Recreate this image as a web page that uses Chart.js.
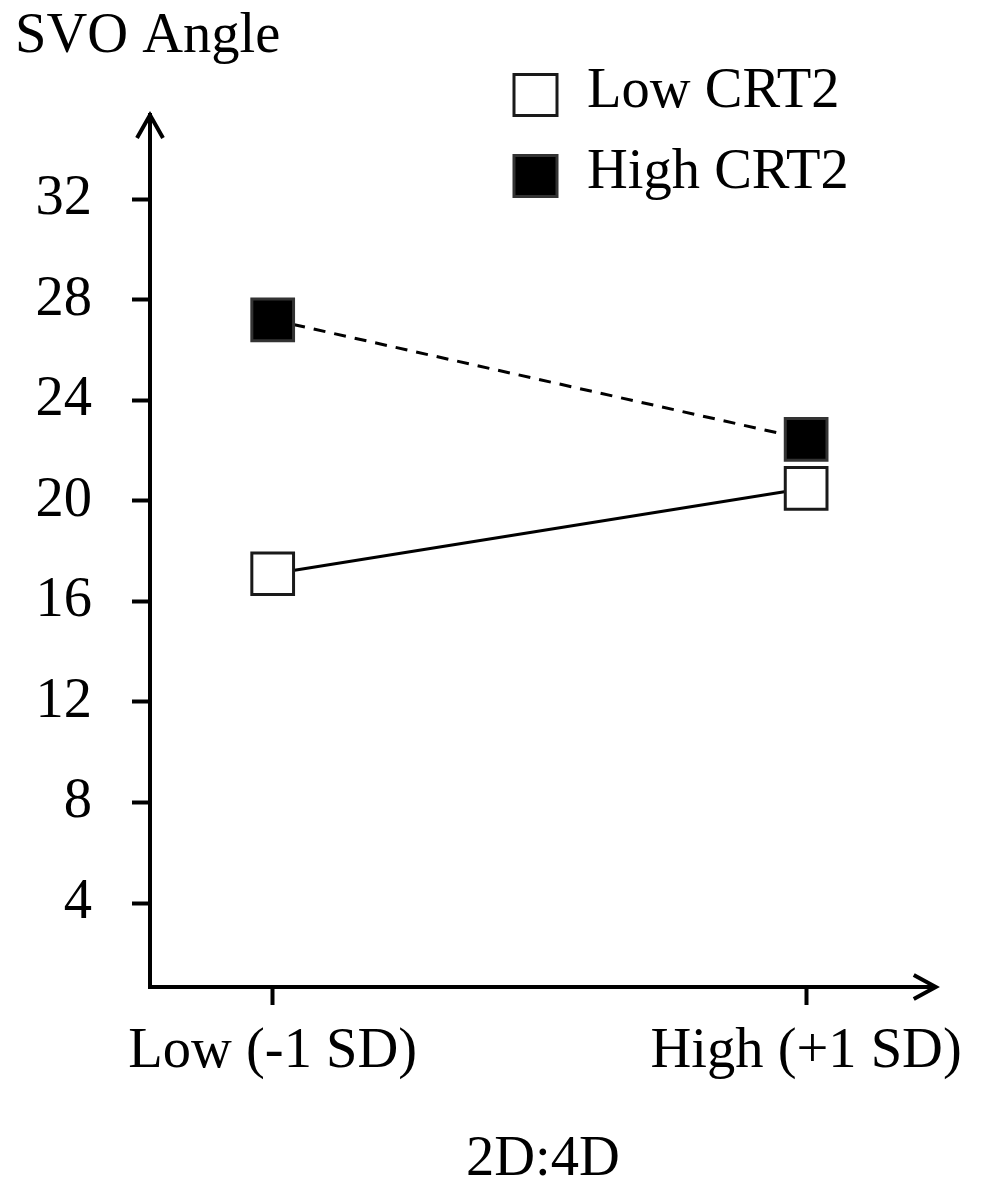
<!DOCTYPE html>
<html><head><meta charset="utf-8">
<script src="https://cdn.jsdelivr.net/npm/chart.js@4"></script>
<style>html,body{margin:0;padding:0;background:#fff}#wrap{width:982px;height:1179px;position:relative}</style>
</head><body><div id="wrap"><canvas id="c"></canvas></div>
<script>
const categories = ['Low (-1 SD)', 'High (+1 SD)'];
const seriesNames = ['Low CRT2', 'High CRT2'];
const lowCRT2 = [17.1, 20.5];
const highCRT2 = [27.2, 22.45];
const yTicks = [4, 8, 12, 16, 20, 24, 28, 32];
const yTitle = 'SVO Angle';
const xTitle = '2D:4D';

const FAMILY = '"Liberation Serif", "Times New Roman", serif';
const FS = 56.5;

const decor = {
  id: 'decor',
  afterDraw(chart) {
    const { ctx, chartArea: a } = chart;
    ctx.save();
    ctx.strokeStyle = '#000';
    ctx.lineWidth = 4;
    ctx.lineJoin = 'miter';
    ctx.beginPath();
    ctx.moveTo(a.left - 13, a.top + 23); ctx.lineTo(a.left, a.top); ctx.lineTo(a.left + 13, a.top + 23);
    ctx.stroke();
    ctx.beginPath();
    ctx.moveTo(a.right - 22, a.bottom - 12); ctx.lineTo(a.right, a.bottom); ctx.lineTo(a.right - 22, a.bottom + 12);
    ctx.stroke();
    ctx.fillStyle = '#000';
    ctx.font = FS + 'px ' + FAMILY;
    ctx.textBaseline = 'alphabetic';
    ctx.textAlign = 'left';
    ctx.fillText(yTitle, 15, 52);
    ctx.textAlign = 'center';
    ctx.fillText(xTitle, (a.left + a.right) / 2, 1175);
    // legend
    ctx.textAlign = 'left';
    chart.data.datasets.forEach((ds, i) => {
      const top = 73 + i * 81;
      ctx.fillStyle = ds.pointBackgroundColor;
      ctx.fillRect(514, top + 1.5, 43, 41);
      ctx.lineWidth = 3;
      ctx.strokeStyle = ds.pointBorderColor;
      ctx.strokeRect(514, top + 1.5, 43, 41);
      ctx.fillStyle = '#000';
      ctx.fillText(ds.label, 587, top + 34);
    });
    ctx.restore();
  }
};

new Chart(document.getElementById('c'), {
  type: 'line',
  data: {
    datasets: [
      {
        label: seriesNames[0],
        data: lowCRT2.map((v, i) => ({ x: i, y: v })),
        borderColor: '#000', borderWidth: 3,
        pointStyle: 'rect', pointRadius: 29.5, pointHoverRadius: 29.5,
        pointBackgroundColor: '#fff', pointBorderColor: '#1a1a1a', pointBorderWidth: 3,
        clip: false
      },
      {
        label: seriesNames[1],
        data: highCRT2.map((v, i) => ({ x: i, y: v })),
        borderColor: '#000', borderWidth: 3, borderDash: [12, 9],
        pointStyle: 'rect', pointRadius: 29.5, pointHoverRadius: 29.5,
        pointBackgroundColor: '#000', pointBorderColor: '#333', pointBorderWidth: 3,
        clip: false
      }
    ]
  },
  options: {
    responsive: true, maintainAspectRatio: false, animation: false,
    layout: { padding: { top: 115, right: 44, bottom: 0, left: 0 } },
    plugins: { legend: { display: false }, tooltip: { enabled: false }, title: { display: false } },
    scales: {
      x: {
        type: 'linear', min: -0.23, max: 1.243,
        afterFit(s) { s.height = 192; },
        afterBuildTicks(s) { s.ticks = categories.map((c, i) => ({ value: i })); },
        ticks: { callback: (v) => categories[v], color: '#000', font: { family: FAMILY, size: FS }, padding: 13, maxRotation: 0, autoSkip: false },
        grid: { drawOnChartArea: false, drawTicks: true, tickLength: 18, tickWidth: 4, tickColor: '#000' },
        border: { display: true, color: '#000', width: 4 }
      },
      y: {
        type: 'linear', min: 0.66, max: 35.35,
        afterFit(s) { s.width = 150; },
        afterBuildTicks(s) { s.ticks = yTicks.map(v => ({ value: v })); },
        ticks: { color: '#000', font: { family: FAMILY, size: FS }, padding: 40 },
        grid: { drawOnChartArea: false, drawTicks: true, tickLength: 18, tickWidth: 4, tickColor: '#000' },
        border: { display: true, color: '#000', width: 4 }
      }
    }
  },
  plugins: [decor]
});
</script>
</body></html>
